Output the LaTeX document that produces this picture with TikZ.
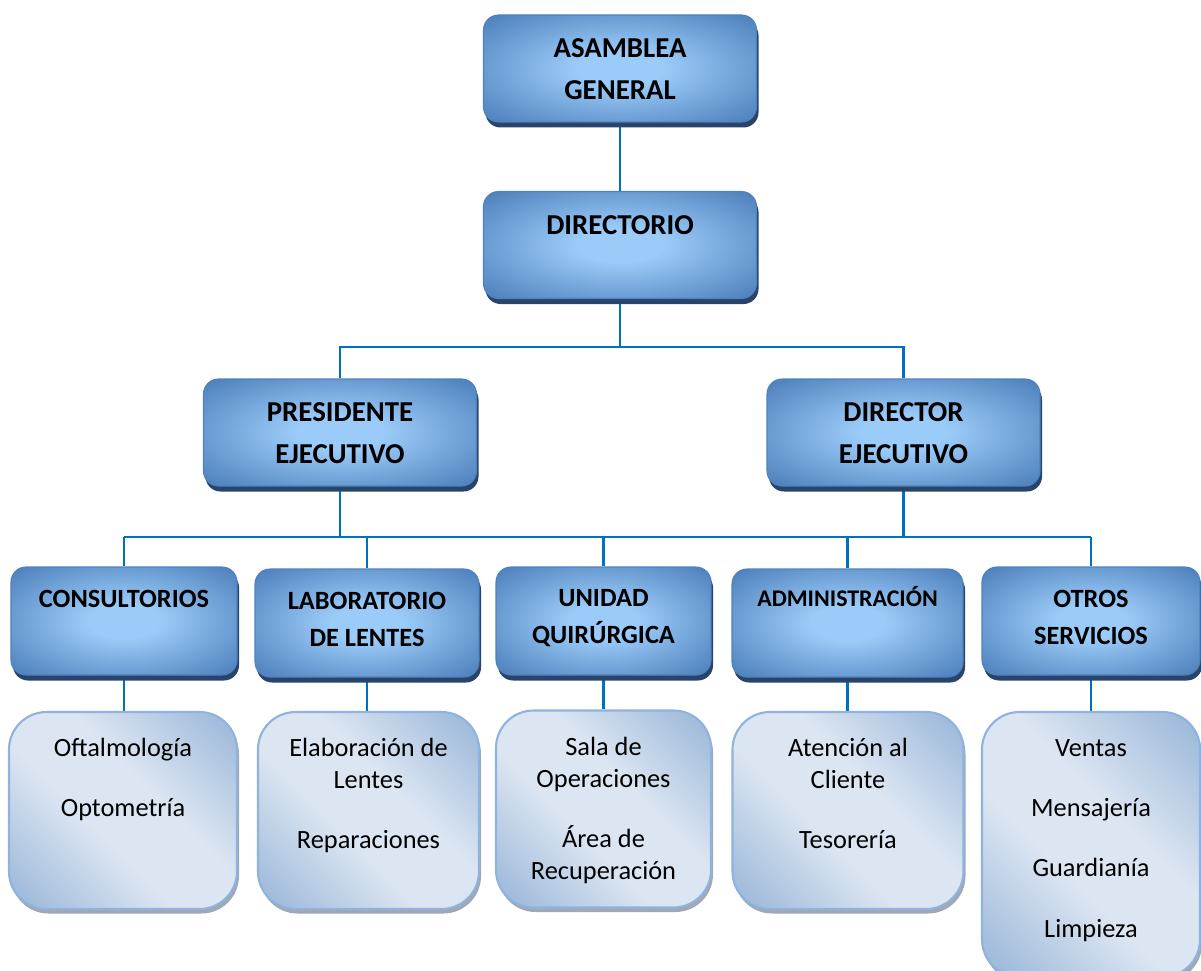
\documentclass[tikz,border=0pt]{standalone}
\usepackage{fontspec}
\setmainfont{Carlito}
\usetikzlibrary{positioning, shadows, backgrounds}
\definecolor{boxblue}{HTML}{4F81BD}
\definecolor{glowlight}{HTML}{9BCBF8}
\definecolor{boxshadow}{HTML}{27456B}
\definecolor{sublight}{HTML}{DCE6F2}
\definecolor{subdark}{HTML}{95B3D7}
\definecolor{subline}{HTML}{8FB3DE}
\definecolor{subshadow}{HTML}{9FA8B4}
\definecolor{linkblue}{HTML}{0070C0}
\pgfdeclareradialshading{boxglow}{\pgfpoint{0bp}{0bp}}{%
  color(0bp)=(glowlight); color(8bp)=(glowlight);
  color(34bp)=(boxblue); color(50bp)=(boxblue)}
\pgfdeclareverticalshading{subsheen}{100bp}{%
  color(0bp)=(subdark); color(14bp)=(subdark);
  color(42bp)=(sublight); color(58bp)=(sublight);
  color(86bp)=(subdark); color(100bp)=(subdark)}
\tikzset{
  headbox/.style={
    rectangle, rounded corners=0.3cm,
    draw=boxblue, line width=0.6pt, shade, shading=boxglow,
    minimum width=5.46cm, minimum height=2.14cm,
    drop shadow={shadow xshift=0.04cm, shadow yshift=-0.11cm, fill=boxshadow, opacity=1}
  },
  unitbox/.style={headbox, minimum width=4.5cm, minimum height=2.16cm},
  subbox/.style={
    rectangle, rounded corners=0.75cm,
    draw=subline, line width=1.2pt,
    shade, shading=subsheen, shading angle=-45,
    minimum width=4.5cm, minimum height=3.94cm,
    drop shadow={shadow xshift=0.04cm, shadow yshift=-0.09cm, fill=subshadow, opacity=1}
  },
  headtext/.style={inner sep=0pt, align=center, font=\fontsize{16.4pt}{23.8pt}\selectfont\bfseries},
  unittext/.style={inner sep=0pt, align=center, font=\fontsize{15pt}{21pt}\selectfont\bfseries},
  subtext/.style={inner sep=0pt, align=center, font=\fontsize{15pt}{18.2pt}\selectfont},
  link/.style={draw=linkblue, line width=1.3pt},
}
\begin{document}
\begin{tikzpicture}
  \useasboundingbox (0,0) rectangle (24.02,-19.4);

  % top of the chart
  \node[headbox] (asamblea) at (12.4,-1.37) {};
  \node[headbox] (directorio) at (12.4,-4.9) {};
  \node[headbox] (presidente) at (6.8,-8.65) {};
  \node[headbox] (director) at (18.07,-8.65) {};
  \node[headtext, below=0.48cm of asamblea.north] (asamblea-text) {ASAMBLEA\\GENERAL};
  \node[headtext, below=0.48cm of directorio.north] (directorio-text) {DIRECTORIO};
  \node[headtext, below=0.48cm of presidente.north] (presidente-text) {PRESIDENTE\\EJECUTIVO};
  \node[headtext, below=0.48cm of director.north] (director-text) {DIRECTOR\\EJECUTIVO};

  % units
  \node[unitbox, minimum width=4.52cm] (consultorios) at (2.48,-12.42) {};
  \node[unitbox, minimum width=4.48cm] (laboratorio) at (7.34,-12.46) {};
  \node[unitbox, minimum width=4.3cm] (unidad) at (12.07,-12.42) {};
  \node[unitbox, minimum width=4.62cm] (administracion) at (16.95,-12.46) {};
  \node[unitbox, minimum width=4.36cm] (otros) at (21.82,-12.42) {};
  \node[unittext, below=0.46cm of consultorios.north] (consultorios-text) {CONSULTORIOS};
  \node[unittext, below=0.46cm of laboratorio.north] (laboratorio-text) {LABORATORIO\\DE LENTES};
  \node[unittext, below=0.46cm of unidad.north] (unidad-text) {UNIDAD\\QUIRÚRGICA};
  \node[unittext, font=\fontsize{13.6pt}{19pt}\selectfont\bfseries, below=0.36cm of administracion.north] (administracion-text) {ADMINISTRACIÓN};
  \node[unittext, below=0.46cm of otros.north] (otros-text) {OTROS\\SERVICIOS};

  % sections of each unit
  \node[subbox, minimum width=4.56cm] (consultorios-sub) at (2.46,-16.21) {};
  \node[subbox, minimum width=4.42cm] (laboratorio-sub) at (7.37,-16.21) {};
  \node[subbox, minimum width=4.3cm] (unidad-sub) at (12.07,-16.18) {};
  \node[subbox, minimum width=4.62cm] (administracion-sub) at (16.96,-16.21) {};
  \node[subbox, minimum width=4.36cm, minimum height=5.3cm] (otros-sub) at (21.82,-16.89) {};
  \node[subtext, below=0.54cm of consultorios-sub.north] (consultorios-list) {Oftalmología\\[16pt]Optometría};
  \node[subtext, below=0.54cm of laboratorio-sub.north] (laboratorio-list) {Elaboración de\\Lentes\\[16pt]Reparaciones};
  \node[subtext, below=0.54cm of unidad-sub.north] (unidad-list) {Sala de\\Operaciones\\[16pt]Área de\\Recuperación};
  \node[subtext, below=0.54cm of administracion-sub.north] (administracion-list) {Atención al\\Cliente\\[16pt]Tesorería};
  \node[subtext, below=0.57cm of otros-sub.north] (otros-list) {Ventas\\[16pt]Mensajería\\[16pt]Guardianía\\[16pt]Limpieza};

  \coordinate (split) at (12.4,-6.94);
  \coordinate (bus) at (12.07,-10.74);

  \begin{scope}[on background layer]
    \draw[link] (asamblea) -- (directorio);
    \draw[link] (directorio) -- (split);
    \draw[link] (presidente) |- (split) -| (director);
    \draw[link] (presidente) -- (presidente |- bus);
    \draw[link] (director) -- (director |- bus);
    \draw[link] (consultorios |- bus) -- (otros |- bus);
    \foreach \unit in {consultorios, laboratorio, unidad, administracion, otros}{
      \draw[link] (\unit |- bus) -- (\unit);
      \draw[link] (\unit) -- (\unit |- \unit-sub.north);
    }
  \end{scope}
\end{tikzpicture}
\end{document}
